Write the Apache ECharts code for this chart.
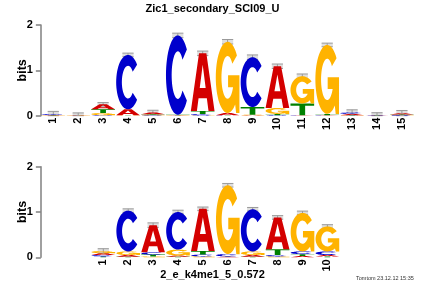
<!DOCTYPE html>
<html><head><meta charset="utf-8">
<script src="https://cdn.jsdelivr.net/npm/echarts@6/dist/echarts.min.js"></script>
<style>html,body{margin:0;padding:0;background:#fff}#c{width:425px;height:283px}</style>
</head><body><div id="c"></div>
<script>
// ---- data (bits per letter, per position) ----
const topTitle = 'Zic1_secondary_SCI09_U';
const topPositions = ['1','2','3','4','5','6','7','8','9','10','11','12','13','14','15'];
const topA = [0.005,0.003,0.11,0.13,0.04,0.005,1.27,0.05,0.01,0.92,0.005,0.005,0.03,0.004,0.03];
const topC = [0.02,0.003,0.01,1.2,0.01,1.75,0.03,0.005,1.1,0.01,0.005,0.005,0.03,0.004,0.01];
const topG = [0.005,0.003,0.05,0.005,0.01,0.005,0.005,1.57,0.01,0.13,0.6,1.52,0.005,0.004,0.005];
const topT = [0.005,0.003,0.08,0.005,0.01,0.01,0.07,0.005,0.17,0.03,0.26,0.03,0.005,0.004,0.01];
const topErr = [0.06,0.05,0.04,0.04,0.05,0.05,0.05,0.05,0.05,0.05,0.05,0.04,0.06,0.05,0.06];

const botTitle = '2_e_k4me1_5_0.572';
const botPositions = ['1','2','3','4','5','6','7','8','9','10'];
const botA = [0.04,0.04,0.6,0.03,0.93,0.01,0.04,0.7,0.03,0.03];
const botC = [0.03,0.9,0.05,0.83,0.04,0.05,0.93,0.03,0.06,0.08];
const botG = [0.05,0.08,0.02,0.13,0.02,1.52,0.08,0.02,0.85,0.55];
const botT = [0.02,0.01,0.04,0.01,0.08,0.01,0.01,0.13,0.04,0.02];
const botErr = [0.05,0.04,0.05,0.04,0.04,0.04,0.04,0.04,0.04,0.04];

const footnote = 'Tomtom 23.12.12 15:35';
const yTicks = ['0','1','2'];

// ---- glyph geometry (unit box, v down) ----
function arc(cx, cy, rx, ry, a0, a1, n) {
  const pts = [];
  for (let k = 0; k <= n; k++) {
    const t = (a0 + (a1 - a0) * k / n) * Math.PI / 180;
    pts.push([cx + rx * Math.cos(t), cy - ry * Math.sin(t)]);
  }
  return pts;
}
const GLYPHS = {
  A: [
    [[0,1],[0.345,0],[0.655,0],[1,1],[0.745,1],[0.675,0.78],[0.325,0.78],[0.255,1]],
    [[0.625,0.6],[0.5,0.2],[0.375,0.6]]
  ],
  T: [
    [[0,0],[1,0],[1,0.19],[0.62,0.19],[0.62,1],[0.38,1],[0.38,0.19],[0,0.19]]
  ],
  C: [
    arc(0.5,0.5,0.5,0.5,40,320,48).concat(arc(0.5,0.5,0.26,0.3,320,40,40))
  ],
  G: [
    arc(0.5,0.5,0.5,0.5,38,300,46)
      .concat([[0.82,0.88],[0.86,1],[1,1],[1,0.47],[0.52,0.47],[0.52,0.64],[0.76,0.64]])
      .concat(arc(0.5,0.5,0.26,0.3,335,40,40))
  ]
};
const COLORS = { A: '#d40000', C: '#0000cc', G: '#ffb300', T: '#008000' };

function glyphPath(letter, x, y, w, h) {
  let d = '';
  GLYPHS[letter].forEach(function (poly) {
    poly.forEach(function (p, k) {
      d += (k === 0 ? 'M' : 'L') + (x + p[0] * w).toFixed(2) + ' ' + (y + p[1] * h).toFixed(2) + ' ';
    });
    d += 'Z ';
  });
  return d;
}

function makeRender(A, C, G, T, E) {
  return function (params, api) {
    const i = params.dataIndex;
    const base = api.coord([i, 0]);
    const one = api.coord([i, 1]);
    const unit = base[1] - one[1];
    const bw = api.size([1, 0])[0];
    const cx = base[0];
    const w = bw * 0.95;
    const items = [['A', A[i]], ['C', C[i]], ['G', G[i]], ['T', T[i]]]
      .sort(function (a, b) { return a[1] - b[1]; });
    const total = A[i] + C[i] + G[i] + T[i];
    const children = [];
    // error bar
    const yTop = base[1] - (total + E[i]) * unit;
    const yBot = base[1] - Math.max(0, total - E[i]) * unit;
    const ew = bw * 0.45;
    children.push({ type: 'rect', shape: { x: cx - ew / 2, y: yTop, width: ew, height: yBot - yTop },
      style: { fill: '#dedede' } });
    children.push({ type: 'line', shape: { x1: cx - ew / 2, y1: yTop, x2: cx + ew / 2, y2: yTop },
      style: { stroke: '#9a9a9a', lineWidth: 1 } });
    children.push({ type: 'line', shape: { x1: cx, y1: yTop, x2: cx, y2: yBot },
      style: { stroke: '#9a9a9a', lineWidth: 1 } });
    children.push({ type: 'line', shape: { x1: cx - ew / 2, y1: yBot, x2: cx + ew / 2, y2: yBot },
      style: { stroke: '#9a9a9a', lineWidth: 1 } });
    // letters
    let cum = 0;
    items.forEach(function (it) {
      const h = it[1] * unit;
      const yb = base[1] - cum * unit;
      cum += it[1];
      if (h <= 0) return;
      children.push({
        type: 'path',
        shape: { pathData: glyphPath(it[0], cx - w / 2, yb - h, w, h) },
        style: { fill: COLORS[it[0]] }
      });
    });
    return { type: 'group', children: children };
  };
}

const FONT = 'Liberation Sans, Arial, Helvetica, sans-serif';

function yAxisOpt(gridIndex, offset) {
  return {
    type: 'value', gridIndex: gridIndex, min: 0, max: 2, interval: 1, offset: offset,
    name: 'bits', nameLocation: 'middle', nameGap: 12, nameMoveOverlap: false,
    nameTextStyle: { fontFamily: FONT, fontWeight: 'bold', fontSize: 12.5, color: '#000' },
    axisLine: { show: true, lineStyle: { color: '#808080', width: 1.5 } },
    axisTick: { show: true, length: 5, lineStyle: { color: '#808080', width: 1.5 } },
    axisLabel: { margin: 8, fontFamily: FONT, fontWeight: 'bold', fontSize: 11, color: '#000',
      formatter: function (v) { return yTicks[v] !== undefined ? yTicks[v] : ''; } },
    splitLine: { show: false }
  };
}
function xAxisOpt(gridIndex, cats) {
  return {
    type: 'category', gridIndex: gridIndex, data: cats, boundaryGap: true,
    axisLine: { show: false }, axisTick: { show: false },
    axisLabel: { interval: 0, rotate: 90, margin: 2, fontFamily: FONT, fontWeight: 'bold', fontSize: 11, color: '#000' },
    splitLine: { show: false }
  };
}

const chart = echarts.init(document.getElementById('c'), null, { renderer: 'canvas' });
chart.setOption({
  animation: false,
  backgroundColor: '#fff',
  graphic: [
    { type: 'text', x: 212.5, y: 8.5,
      style: { text: topTitle, font: 'bold 11px ' + FONT, fill: '#000', textAlign: 'center', textVerticalAlign: 'middle' } },
    { type: 'text', x: 212.5, y: 274.5,
      style: { text: botTitle, font: 'bold 11px ' + FONT, fill: '#000', textAlign: 'center', textVerticalAlign: 'middle' } },
    { type: 'text', x: 356, y: 278,
      style: { text: footnote, font: '5.5px ' + FONT, fill: '#333', textAlign: 'left', textVerticalAlign: 'middle' } }
  ],
  grid: [
    { left: 40.85, top: 25, width: 373.5, height: 90.7, containLabel: false, outerBoundsMode: 'none' },
    { left: 90.85, top: 166.7, width: 249, height: 90.6, containLabel: false, outerBoundsMode: 'none' }
  ],
  xAxis: [xAxisOpt(0, topPositions), xAxisOpt(1, botPositions)],
  yAxis: [yAxisOpt(0, 0), yAxisOpt(1, 50)],
  series: [
    { type: 'custom', xAxisIndex: 0, yAxisIndex: 0, coordinateSystem: 'cartesian2d',
      renderItem: makeRender(topA, topC, topG, topT, topErr),
      data: topPositions.map(function (p, i) { return [i, 0]; }), encode: { x: 0, y: 1 } },
    { type: 'custom', xAxisIndex: 1, yAxisIndex: 1, coordinateSystem: 'cartesian2d',
      renderItem: makeRender(botA, botC, botG, botT, botErr),
      data: botPositions.map(function (p, i) { return [i, 0]; }), encode: { x: 0, y: 1 } }
  ]
});
</script>
</body></html>
